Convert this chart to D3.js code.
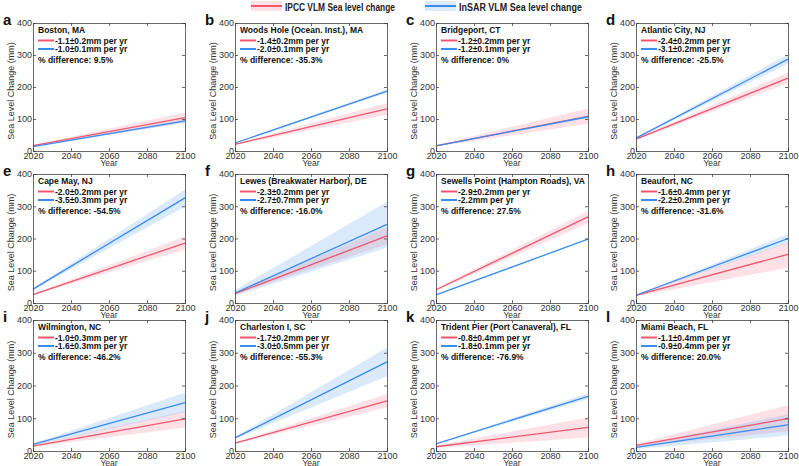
<!DOCTYPE html>
<html>
<head>
<meta charset="utf-8">
<script src="https://cdn.jsdelivr.net/npm/d3@7"></script>
<style>
  body { margin: 0; background: #fff; }
  svg { display: block; font-family: "Liberation Sans", Arial, sans-serif; }
</style>
</head>
<body>
<div id="chart"></div>
<script>
// panel data, one entry per tide gauge station
var letters = ["a", "b", "c", "d", "e", "f", "g", "h", "i", "j", "k", "l"];
var stations = ["Boston, MA", "Woods Hole (Ocean. Inst.), MA", "Bridgeport, CT", "Atlantic City, NJ",
  "Cape May, NJ", "Lewes (Breakwater Harbor), DE", "Sewells Point (Hampton Roads), VA", "Beaufort, NC",
  "Wilmington, NC", "Charleston I, SC", "Trident Pier (Port Canaveral), FL", "Miami Beach, FL"];
var ipccRate = ["-1.1±0.2mm per yr", "-1.4±0.2mm per yr", "-1.2±0.2mm per yr", "-2.4±0.2mm per yr",
  "-2.0±0.2mm per yr", "-2.3±0.2mm per yr", "-2.9±0.2mm per yr", "-1.6±0.4mm per yr",
  "-1.0±0.3mm per yr", "-1.7±0.2mm per yr", "-0.8±0.4mm per yr", "-1.1±0.4mm per yr"];
var insarRate = ["-1.0±0.1mm per yr", "-2.0±0.1mm per yr", "-1.2±0.1mm per yr", "-3.1±0.2mm per yr",
  "-3.5±0.3mm per yr", "-2.7±0.7mm per yr", "-2.2mm per yr", "-2.2±0.2mm per yr",
  "-1.6±0.3mm per yr", "-3.0±0.5mm per yr", "-1.8±0.1mm per yr", "-0.9±0.4mm per yr"];
var pctDiff = ["9.5%", "-35.3%", "0%", "-25.5%", "-54.5%", "-16.0%", "27.5%", "-31.6%",
  "-46.2%", "-55.3%", "-76.9%", " 20.0%"];

var years = [2020, 2100];
// sea level change (mm) at 2020 and 2100
var ipccMid = [[17,104],[21,132],[16,108],[37,228],[26,186],[29,208],[41,267],[24,151],[15,98],[24,153],[13,72],[17,99]];
var ipccLo  = [[15,88],[19,113],[14,85],[34,212],[24,166],[27,182],[38,247],[21,109],[12,72],[22,133],[9,41],[13,60]];
var ipccHi  = [[19,120],[23,150],[18,133],[40,245],[28,206],[31,236],[44,285],[27,187],[18,122],[26,174],[17,102],[21,140]];
var insarMid = [[14,94],[25,187],[16,107],[40,287],[43,326],[31,244],[25,198],[24,200],[20,148],[40,272],[22,167],[11,80]];
var insarLo  = [[13,88],[24,182],[15,103],[38,273],[40,299],[22,172],[25,198],[23,185],[17,118],[37,228],[21,158],[6,47]];
var insarHi  = [[15,100],[26,192],[17,111],[42,302],[46,352],[40,314],[25,198],[25,214],[23,178],[43,316],[23,176],[16,112]];

var yTicks = [0, 100, 200, 300, 400];
var xTicks = [2020, 2040, 2060, 2080, 2100];

var W = 799, H = 466;
var colLeft = [33, 235, 436, 636];
var rowTop = [23, 174, 320];
var rowH = [128, 129, 131];
var pw = 152;

var red = "#f2566e", blue = "#3a8cf0";
var redBand = "rgba(244,120,140,0.22)", blueBand = "rgba(110,170,240,0.25)";

var svg = d3.select("#chart").append("svg").attr("width", W).attr("height", H);

// top legend
var leg = [{x: 251, c: red, b: redBand, t: "IPCC VLM Sea level change", w: 110},
           {x: 425, c: blue, b: blueBand, t: "InSAR VLM Sea level change", w: 123}];
leg.forEach(function(l) {
  svg.append("rect").attr("x", l.x).attr("y", 1).attr("width", 31).attr("height", 10).attr("fill", l.b);
  svg.append("line").attr("x1", l.x).attr("x2", l.x + 31).attr("y1", 6).attr("y2", 6)
    .attr("stroke", l.c).attr("stroke-width", 2);
  svg.append("text").attr("x", l.x + 34).attr("y", 10.5).attr("font-size", 11).attr("font-weight", "bold")
    .attr("textLength", l.w).attr("lengthAdjust", "spacingAndGlyphs")
    .attr("fill", "#222").text(l.t);
});

var x = d3.scaleLinear().domain([2020, 2100]).range([0, pw]);

function pts(mid) { return years.map(function(yr, k) { return [yr, mid[k]]; }); }
function band(lo, hi) { return years.map(function(yr, k) { return [yr, lo[k], hi[k]]; }); }

letters.forEach(function(letter, i) {
  var row = Math.floor(i / 4);
  var ph = rowH[row];
  var gx = colLeft[i % 4], gy = rowTop[row];
  var y = d3.scaleLinear().domain([0, 400]).range([ph, 0]);
  var line = d3.line().x(function(d) { return x(d[0]); }).y(function(d) { return y(d[1]); });
  var area = d3.area().x(function(d) { return x(d[0]); })
    .y0(function(d) { return y(d[1]); }).y1(function(d) { return y(d[2]); });

  var g = svg.append("g").attr("transform", "translate(" + gx + "," + gy + ")");

  g.append("path").attr("d", area(band(ipccLo[i], ipccHi[i]))).attr("fill", redBand);
  g.append("path").attr("d", area(band(insarLo[i], insarHi[i]))).attr("fill", blueBand);
  g.append("path").attr("d", line(pts(ipccMid[i]))).attr("fill", "none").attr("stroke", red).attr("stroke-width", 1.3);
  g.append("path").attr("d", line(pts(insarMid[i]))).attr("fill", "none").attr("stroke", blue).attr("stroke-width", 1.3);

  // axes, ticks inward on all four sides
  var ax = [
    g.append("g").call(d3.axisLeft(y).tickValues(yTicks).tickSize(-3).tickPadding(1)),
    g.append("g").attr("transform", "translate(" + pw + ",0)").call(d3.axisRight(y).tickValues(yTicks).tickSize(-3).tickFormat("")),
    g.append("g").attr("transform", "translate(0," + ph + ")").call(d3.axisBottom(x).tickValues(xTicks).tickSize(-3).tickPadding(1.5).tickFormat(d3.format("d"))),
    g.append("g").call(d3.axisTop(x).tickValues(xTicks).tickSize(-3).tickFormat(""))
  ];
  ax.forEach(function(a) {
    a.select(".domain").attr("stroke", "#444").attr("stroke-width", 0.8);
    a.selectAll(".tick line").attr("stroke", "#444").attr("stroke-width", 0.8);
    a.selectAll("text").attr("font-size", 9).attr("fill", "#333").attr("font-family", null);
  });

  g.append("text").attr("transform", "translate(-19," + (ph / 2 + 4) + ") rotate(-90)")
    .attr("text-anchor", "middle").attr("font-size", 9).attr("fill", "#333").text("Sea Level Change (mm)");
  g.append("text").attr("x", pw / 2).attr("y", ph + 14.5).attr("text-anchor", "middle")
    .attr("font-size", 8.5).attr("fill", "#333").text("Year");

  g.append("text").attr("x", -30).attr("y", 2).attr("font-size", 15).attr("font-weight", "bold")
    .attr("fill", "#111").text(letter);

  // inner legend
  var lg = g.append("g").attr("transform", "translate(5,0)");
  lg.append("text").attr("x", 0).attr("y", 9.5).attr("font-size", 8.5).attr("font-weight", "bold")
    .attr("fill", "#111").text(stations[i]);
  [[ipccRate[i], red, 17.5], [insarRate[i], blue, 26]].forEach(function(r) {
    lg.append("line").attr("x1", 0).attr("x2", 16).attr("y1", r[2]).attr("y2", r[2])
      .attr("stroke", r[1]).attr("stroke-width", 2);
    lg.append("text").attr("x", 17).attr("y", r[2] + 3).attr("font-size", 8.5).attr("font-weight", "bold")
      .attr("fill", "#111").text(r[0]);
  });
  lg.append("text").attr("x", 0).attr("y", 39.5).attr("font-size", 8.5).attr("font-weight", "bold")
    .attr("fill", "#111").text("% difference: " + pctDiff[i]);
});
</script>
</body>
</html>
